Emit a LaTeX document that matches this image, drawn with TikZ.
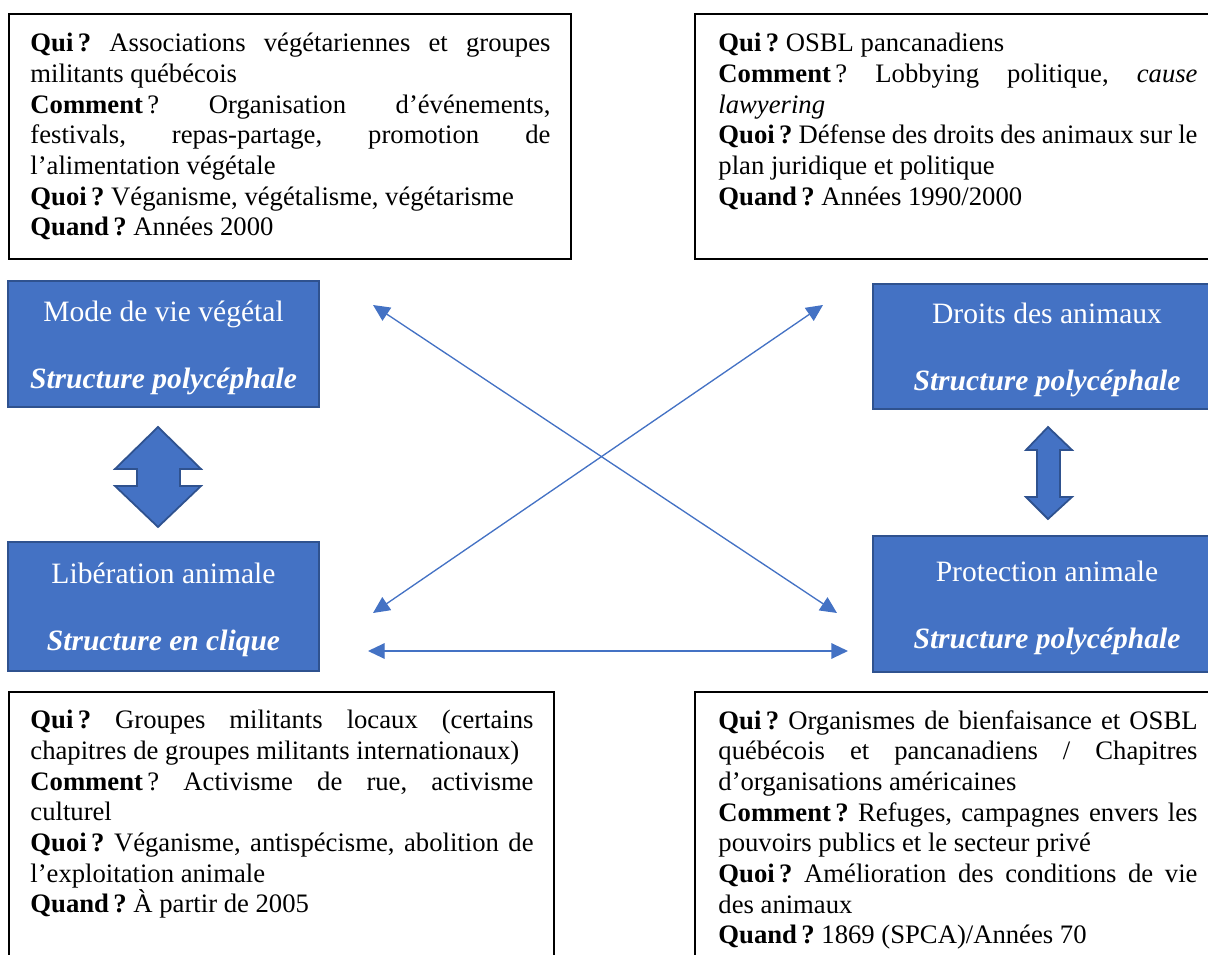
\documentclass[tikz,border=0pt]{standalone}
\usepackage{fontspec}
\setmainfont{Liberation Serif}
\usepackage{tikz}
\usetikzlibrary{arrows.meta}
\definecolor{officeblue}{HTML}{4472C4}
\definecolor{officeedge}{HTML}{2F528F}
\newcommand{\pxu}{0.45pt}
\hyphenpenalty=10000
\exhyphenpenalty=10000
\frenchspacing

\begin{document}
\begin{tikzpicture}[x=\pxu, y=-\pxu,
    infobox/.style={draw=black, line width=0.7pt},
    infotext/.style={anchor=north west, inner sep=0pt, align=justify, font=\fontsize{12}{13.8}\selectfont},
    bluebox/.style={fill=officeblue, draw=officeedge, line width=0.8pt, text=white, align=center, font=\fontsize{13.3}{15}\selectfont},
    link/.style={draw=officeblue, line width=0.6pt, {Triangle[length=7.5pt,width=7pt]}-{Triangle[length=7.5pt,width=7pt]}},
    bigarrow/.style={fill=officeblue, draw=officeedge, line width=0.8pt, line join=miter}]
        \useasboundingbox (0,0) rectangle (1208,955);
        \clip (0,0) rectangle (1208,955);

        % the four movements
        \node[bluebox, minimum width=140pt, minimum height=56.7pt] (vegetal) at (163.5,344)
            {\rule{0pt}{12.5pt}Mode de vie végétal\\[15pt]\textbf{\textit{Structure polycéphale}}};
        \node[bluebox, minimum width=140pt, minimum height=58pt] (liberation) at (163.5,606.5)
            {\rule{0pt}{12.5pt}Libération animale\\[15pt]\textbf{\textit{Structure en clique}}};
        \node[bluebox, minimum width=156.6pt, minimum height=56.3pt] (droits) at (1047,346.5)
            {\rule{0pt}{12.5pt}Droits des animaux\\[15pt]\textbf{\textit{Structure polycéphale}}};
        \node[bluebox, minimum width=156.6pt, minimum height=61.2pt] (protection) at (1047,604)
            {\rule{0pt}{12.5pt}Protection animale\\[15pt]\textbf{\textit{Structure polycéphale}}};

        % the four descriptions
        \draw[infobox] (9,14) rectangle (571,259);
        \node[infotext, text width=234pt] (vegetal-info) at (30,33) {%
            \textbf{Qui\,?} Associations végétariennes et groupes\linebreak
            militants québécois\par
            \textbf{Comment}\,? Organisation d’événements,\linebreak
            festivals, repas-partage, promotion de\linebreak
            l’alimentation végétale\par
            \textbf{Quoi\,?} Véganisme, végétalisme, végétarisme\par
            \textbf{Quand\,?} Années 2000};

        \draw[infobox] (695,14) rectangle (1220,259);
        \node[infotext, text width=215.6pt] (droits-info) at (718,33) {%
            \textbf{Qui\,?} OSBL pancanadiens\par
            \textbf{Comment}\,? Lobbying politique, \textit{cause}\linebreak
            \textit{lawyering}\par
            \textbf{Quoi\,?} Défense des droits des animaux sur le\linebreak
            plan juridique et politique\par
            \textbf{Quand\,?} Années 1990/2000};

        \draw[infobox] (9,692) rectangle (554,990);
        \node[infotext, text width=226.4pt] (liberation-info) at (30,710) {%
            \textbf{Qui\,?} Groupes militants locaux (certains\linebreak
            chapitres de groupes militants internationaux)\par
            \textbf{Comment}\,? Activisme de rue, activisme\linebreak
            culturel\par
            \textbf{Quoi\,?} Véganisme, antispécisme, abolition de\linebreak
            l’exploitation animale\par
            \textbf{Quand\,?} À partir de 2005};

        \draw[infobox] (695,692) rectangle (1220,990);
        \node[infotext, text width=215.6pt] (protection-info) at (718,710) {%
            \textbf{Qui\,?} Organismes de bienfaisance et OSBL\linebreak
            québécois et pancanadiens / Chapitres\linebreak
            d’organisations américaines\par
            \textbf{Comment\,?} Refuges, campagnes envers les\linebreak
            pouvoirs publics et le secteur privé\par
            \textbf{Quoi\,?} Amélioration des conditions de vie\linebreak
            des animaux\par
            \textbf{Quand\,?} 1869 (SPCA)/Années 70};

        % block arrows
        \filldraw[bigarrow] (158,427) -- (201,469) -- (180,469) -- (180,486) -- (201,486) -- (158,527)
            -- (115,486) -- (137,486) -- (137,469) -- (115,469) -- cycle;
        \filldraw[bigarrow] (1048,427) -- (1072,450) -- (1060,450) -- (1060,497) -- (1072,497) -- (1048,519)
            -- (1026,497) -- (1037,497) -- (1037,450) -- (1026,450) -- cycle;

        % thin links
        \coordinate (vegetal-tip) at (373,305);
        \coordinate (protection-tip) at (837,613);
        \coordinate (droits-tip) at (823,305);
        \coordinate (liberation-tip) at (373,613);
        \coordinate (liberation-side) at (368,651);
        \coordinate (protection-side) at (848,651);
        \draw[link] (vegetal-tip) -- (protection-tip);
        \draw[link] (droits-tip) -- (liberation-tip);
        \draw[link] (liberation-side) -- (protection-side);
    \end{tikzpicture}
\end{document}
